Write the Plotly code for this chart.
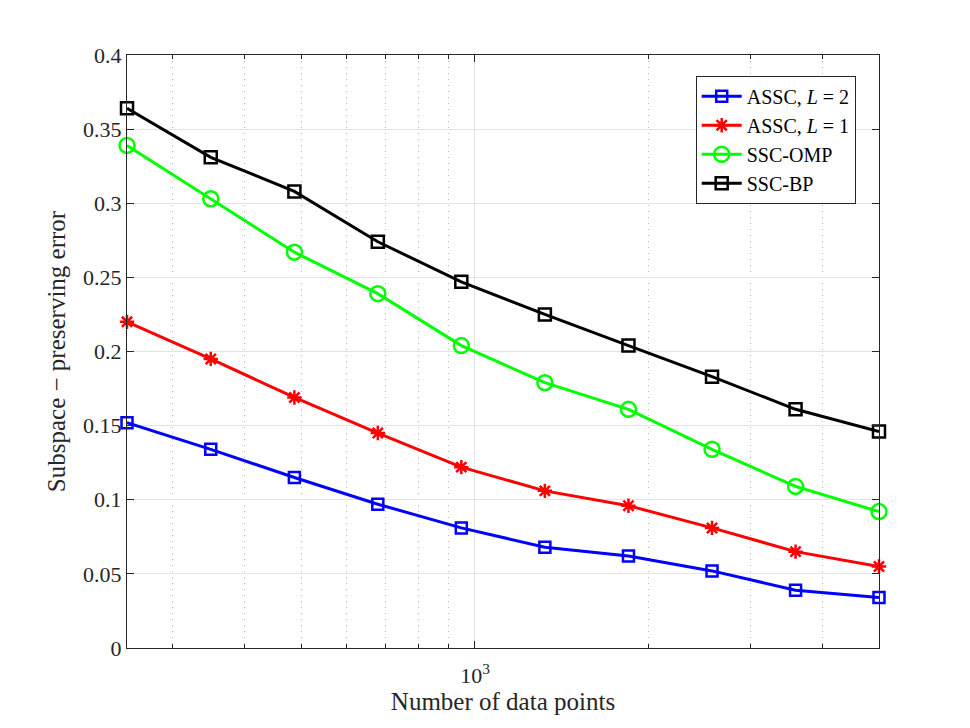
import math
import plotly.graph_objects as go

# ── DATOS ──────────────────────────────────────────────
n_puntos = [250, 349, 487, 679, 947, 1321, 1843, 2571, 3586, 5000]

assc_l2 = [0.152, 0.134, 0.115, 0.097, 0.081, 0.068, 0.062, 0.052, 0.039, 0.034]
assc_l1 = [0.220, 0.195, 0.169, 0.145, 0.122, 0.106, 0.096, 0.081, 0.065, 0.055]
ssc_omp = [0.339, 0.303, 0.267, 0.239, 0.204, 0.179, 0.161, 0.134, 0.109, 0.092]
ssc_bp  = [0.364, 0.331, 0.308, 0.274, 0.247, 0.225, 0.204, 0.183, 0.161, 0.146]

x_major = [1000]
x_major_txt = ["10<sup>3</sup>"]
x_minor = [300, 400, 500, 600, 700, 800, 900, 2000, 3000, 4000]
y_ticks = [0, 0.05, 0.1, 0.15, 0.2, 0.25, 0.3, 0.35, 0.4]
y_ticks_txt = ["0", "0.05", "0.1", "0.15", "0.2", "0.25", "0.3", "0.35", "0.4"]

FUENTE = "Liberation Serif, Times New Roman, serif"
GRIS = "#262626"

series = [
    ("ASSC, <i>L</i> = 2", assc_l2, "#0000ff", "square-open", 11),
    ("ASSC, <i>L</i> = 1", assc_l1, "#ff0000", "asterisk-open", 12),
    ("SSC-OMP",            ssc_omp, "#00ff00", "circle-open", 15),
    ("SSC-BP",             ssc_bp,  "#000000", "square-open", 12),
]

fig = go.Figure()
for nombre, ys, color, simbolo, tam in series:
    fig.add_trace(go.Scatter(
        x=n_puntos, y=ys, name=nombre, mode="lines+markers",
        line=dict(color=color, width=3),
        marker=dict(symbol=simbolo, size=tam, color=color,
                    line=dict(color=color, width=2.5)),
        cliponaxis=False,
    ))

eje = dict(showline=True, linecolor=GRIS, linewidth=1, mirror="ticks",
           ticks="inside", ticklen=7, tickcolor=GRIS,
           tickfont=dict(family=FUENTE, size=22, color=GRIS),
           gridcolor="#e3e3e3", gridwidth=1, zeroline=False)

eps = 1e-5
fig.update_xaxes(
    type="log", range=[math.log10(250) - eps, math.log10(5000) + eps],
    tickmode="array", tickvals=x_major, ticktext=x_major_txt,
    ticklabelstandoff=8,
    minor=dict(tickmode="array", tickvals=x_minor, ticks="inside", ticklen=4,
               tickcolor=GRIS, showgrid=True, gridcolor="#b4b4b4",
               griddash="1px,5px", gridwidth=1),
    title=dict(text="Number of data points",
               font=dict(family=FUENTE, size=25, color=GRIS), standoff=2),
    **eje,
)
fig.update_yaxes(
    range=[0, 0.4], tickmode="array", tickvals=y_ticks, ticktext=y_ticks_txt,
    title=dict(text="Subspace − preserving error",
               font=dict(family=FUENTE, size=25, color=GRIS), standoff=10),
    **eje,
)

# el navegador agrega 8px de margen al body
fig.update_layout(
    width=970, height=728,
    margin=dict(l=119, r=99, t=47, b=88),
    plot_bgcolor="white", paper_bgcolor="white",
    font=dict(family=FUENTE, color=GRIS),
    legend=dict(x=0.969, y=0.965, xanchor="right", yanchor="top",
                bgcolor="white", bordercolor=GRIS, borderwidth=1,
                font=dict(family=FUENTE, size=20, color="#000000"),
                tracegroupgap=0, itemwidth=40),
    showlegend=True,
)

fig.write_html("out.html")
